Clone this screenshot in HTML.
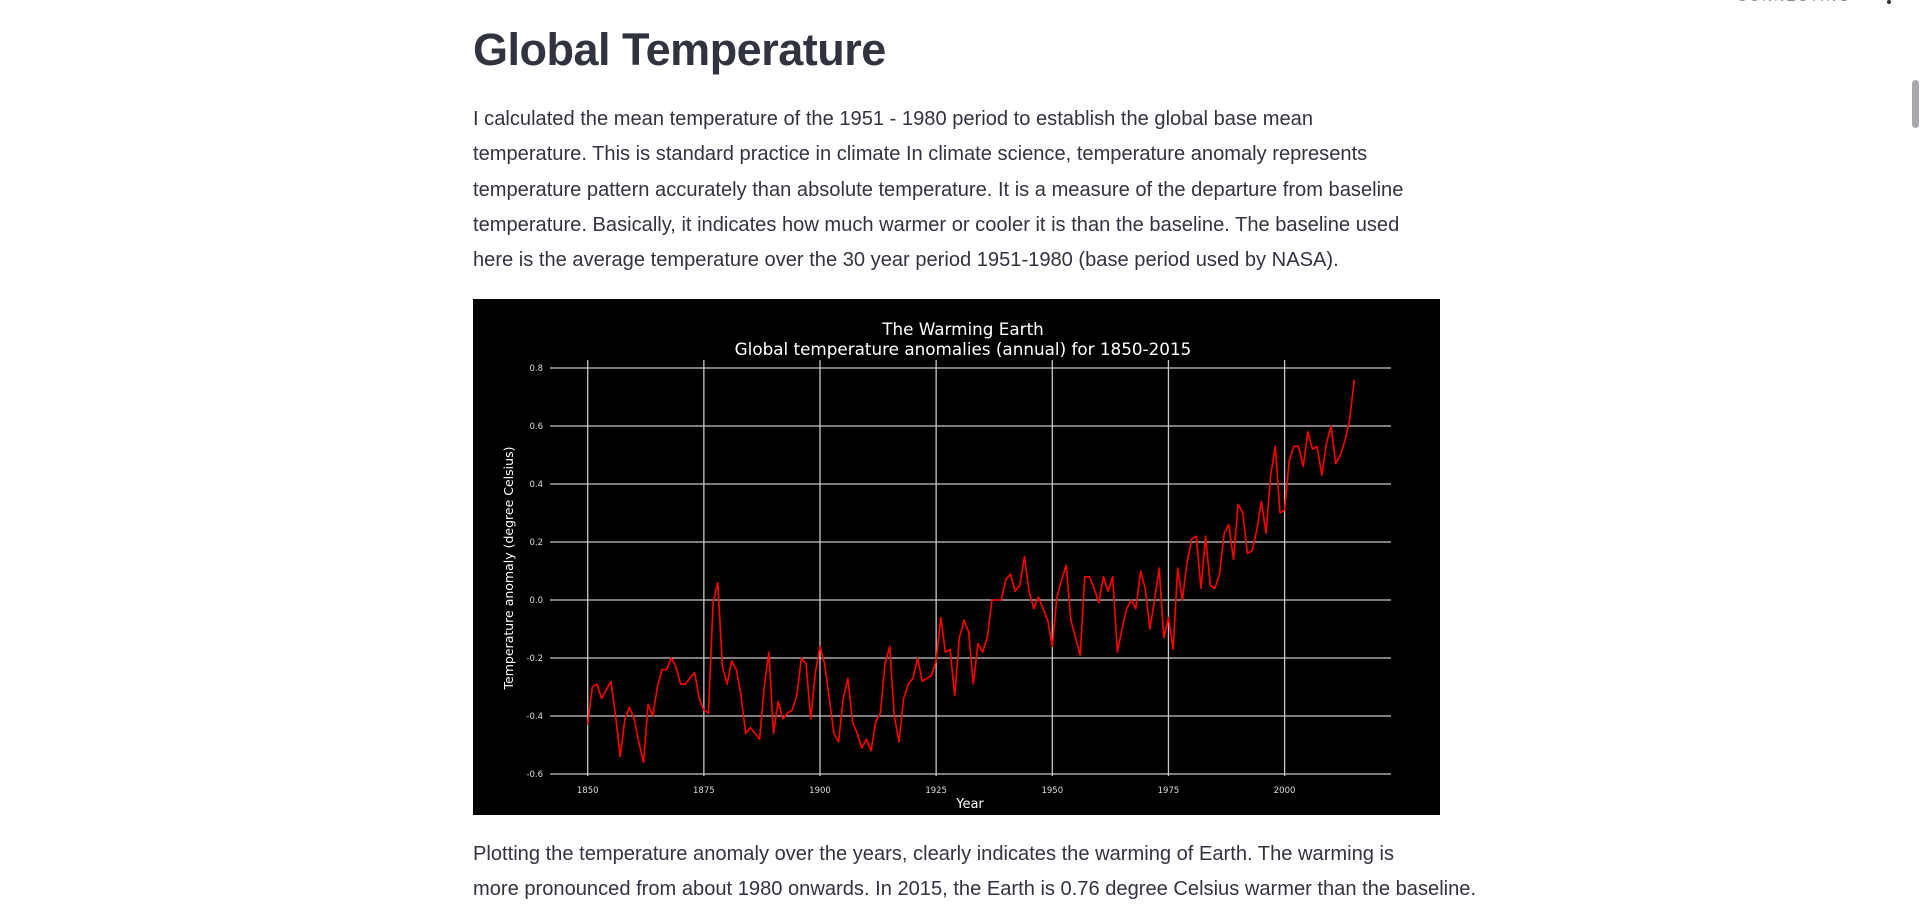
<!DOCTYPE html>
<html><head><meta charset="utf-8"><style>
body{margin:0;width:1920px;height:885px;overflow:hidden;background:#fff;font-family:"Liberation Sans",sans-serif;color:#31333f;position:relative}
h1{position:absolute;left:473px;top:24px;margin:0;font-size:45px;font-weight:700;letter-spacing:-0.5px}
.p{position:absolute;left:473px;width:1000px;font-size:20.1px;line-height:35.3px;margin:0;white-space:nowrap}
#chart{position:absolute;left:473px;top:299px}
</style></head><body>
<div style="position:absolute;left:1737px;top:-12px;font-size:14px;color:#8a8d99;letter-spacing:2px">CONNECTING</div>
<div style="position:absolute;left:1887px;top:0;width:4px;height:4px;border-radius:2px;background:#31333f"></div>
<div style="position:absolute;left:1912px;top:80px;width:7px;height:48px;border-radius:4px;background:#a8a8ad"></div>
<h1>Global Temperature</h1>
<p class="p" style="top:102px">I calculated the mean temperature of the 1951 - 1980 period to establish the global base mean<br>temperature. This is standard practice in climate In climate science, temperature anomaly represents<br>temperature pattern accurately than absolute temperature. It is a measure of the departure from baseline<br>temperature. Basically, it indicates how much warmer or cooler it is than the baseline. The baseline used<br>here is the average temperature over the 30 year period 1951-1980 (base period used by NASA).</p>
<svg id="chart" width="967" height="516" xmlns="http://www.w3.org/2000/svg"></svg>
<p class="p" style="top:837px">Plotting the temperature anomaly over the years, clearly indicates the warming of Earth. The warming is<br>more pronounced from about 1980 onwards. In 2015, the Earth is 0.76 degree Celsius warmer than the baseline.</p>
<script>
const startYear = 1850;
const anomalies = [-0.43,-0.30,-0.29,-0.34,-0.31,-0.28,-0.40,-0.54,-0.41,-0.37,-0.41,-0.49,-0.56,-0.36,-0.40,-0.30,-0.24,-0.24,-0.20,-0.23,
-0.29,-0.29,-0.27,-0.25,-0.34,-0.38,-0.39,-0.01,0.06,-0.23,-0.29,-0.21,-0.24,-0.33,-0.46,-0.44,-0.46,-0.48,-0.30,-0.18,
-0.46,-0.35,-0.41,-0.39,-0.38,-0.33,-0.20,-0.22,-0.41,-0.25,-0.16,-0.22,-0.34,-0.46,-0.49,-0.34,-0.27,-0.42,-0.46,-0.51,
-0.48,-0.52,-0.42,-0.39,-0.22,-0.16,-0.40,-0.49,-0.34,-0.29,-0.27,-0.20,-0.28,-0.27,-0.26,-0.21,-0.06,-0.18,-0.17,-0.33,
-0.13,-0.07,-0.11,-0.29,-0.15,-0.18,-0.13,0.00,0.00,0.00,0.07,0.09,0.03,0.05,0.15,0.03,-0.03,0.01,-0.03,-0.07,
-0.16,0.01,0.07,0.12,-0.07,-0.13,-0.19,0.08,0.08,0.04,-0.01,0.08,0.03,0.08,-0.18,-0.10,-0.03,0.00,-0.03,0.10,
0.04,-0.10,0.00,0.11,-0.13,-0.06,-0.17,0.11,0.00,0.13,0.21,0.22,0.04,0.22,0.05,0.04,0.09,0.23,0.26,0.14,
0.33,0.30,0.16,0.17,0.24,0.34,0.23,0.43,0.53,0.30,0.31,0.48,0.53,0.53,0.46,0.58,0.52,0.53,0.43,0.54,
0.60,0.47,0.50,0.55,0.62,0.76];
const xTicks = [1850,1875,1900,1925,1950,1975,2000];
const yTicks = [-0.6,-0.4,-0.2,0.0,0.2,0.4,0.6,0.8];
const NS='http://www.w3.org/2000/svg';
const svg=document.getElementById('chart');
const X0=114.7, PX=4.646;
const x = yr => X0 + (yr-1850)*PX;
const y = v => 69 - (v-0.8)/0.2*58;
function mk(t,a){const e=document.createElementNS(NS,t);for(const k in a)e.setAttribute(k,a[k]);svg.appendChild(e);return e;}
mk('rect',{x:0,y:0,width:967,height:516,fill:'#000'});
const t1=mk('text',{x:490,y:36,fill:'#fff','font-size':'16.8','text-anchor':'middle','font-family':'DejaVu Sans, sans-serif'});t1.textContent='The Warming Earth';


const t2=mk('text',{x:490,y:56,fill:'#fff','font-size':'16.8','text-anchor':'middle','font-family':'DejaVu Sans, sans-serif'});t2.textContent='Global temperature anomalies (annual) for 1850-2015';


yTicks.forEach(v=>{
 const l=mk('line',{x1:77,x2:918,y1:y(v),y2:y(v),stroke:'#c8c8c8','stroke-width':1.3});
 
 
 const t=mk('text',{x:70,y:y(v)+3,fill:'#ddd','font-size':'8.5','text-anchor':'end','font-family':'DejaVu Sans, sans-serif'});
 t.textContent=v.toFixed(1);
 
 
});
xTicks.forEach(yr=>{
 const l=mk('line',{x1:x(yr),x2:x(yr),y1:61,y2:y(-0.6)+2,stroke:'#c8c8c8','stroke-width':1.3});
 
 
 const t=mk('text',{x:x(yr),y:494,fill:'#ddd','font-size':'8.5','text-anchor':'middle','font-family':'DejaVu Sans, sans-serif'});
 t.textContent=yr;
 
 
});
const xl=mk('text',{x:497,y:509,fill:'#fff','font-size':'13','text-anchor':'middle','font-family':'DejaVu Sans, sans-serif'});xl.textContent='Year';


const yl=mk('text',{x:0,y:0,fill:'#fff','font-size':'12.5','text-anchor':'middle','font-family':'DejaVu Sans, sans-serif',transform:'translate(40,269) rotate(-90)'});yl.textContent='Temperature anomaly (degree Celsius)';


const pts=anomalies.map((v,i)=>x(startYear+i).toFixed(1)+','+y(v).toFixed(1)).join(' ');
const pl=mk('polyline',{points:pts,fill:'none',stroke:'#ff0000','stroke-width':1.6,'stroke-linejoin':'round'});


</script>
</body></html>
